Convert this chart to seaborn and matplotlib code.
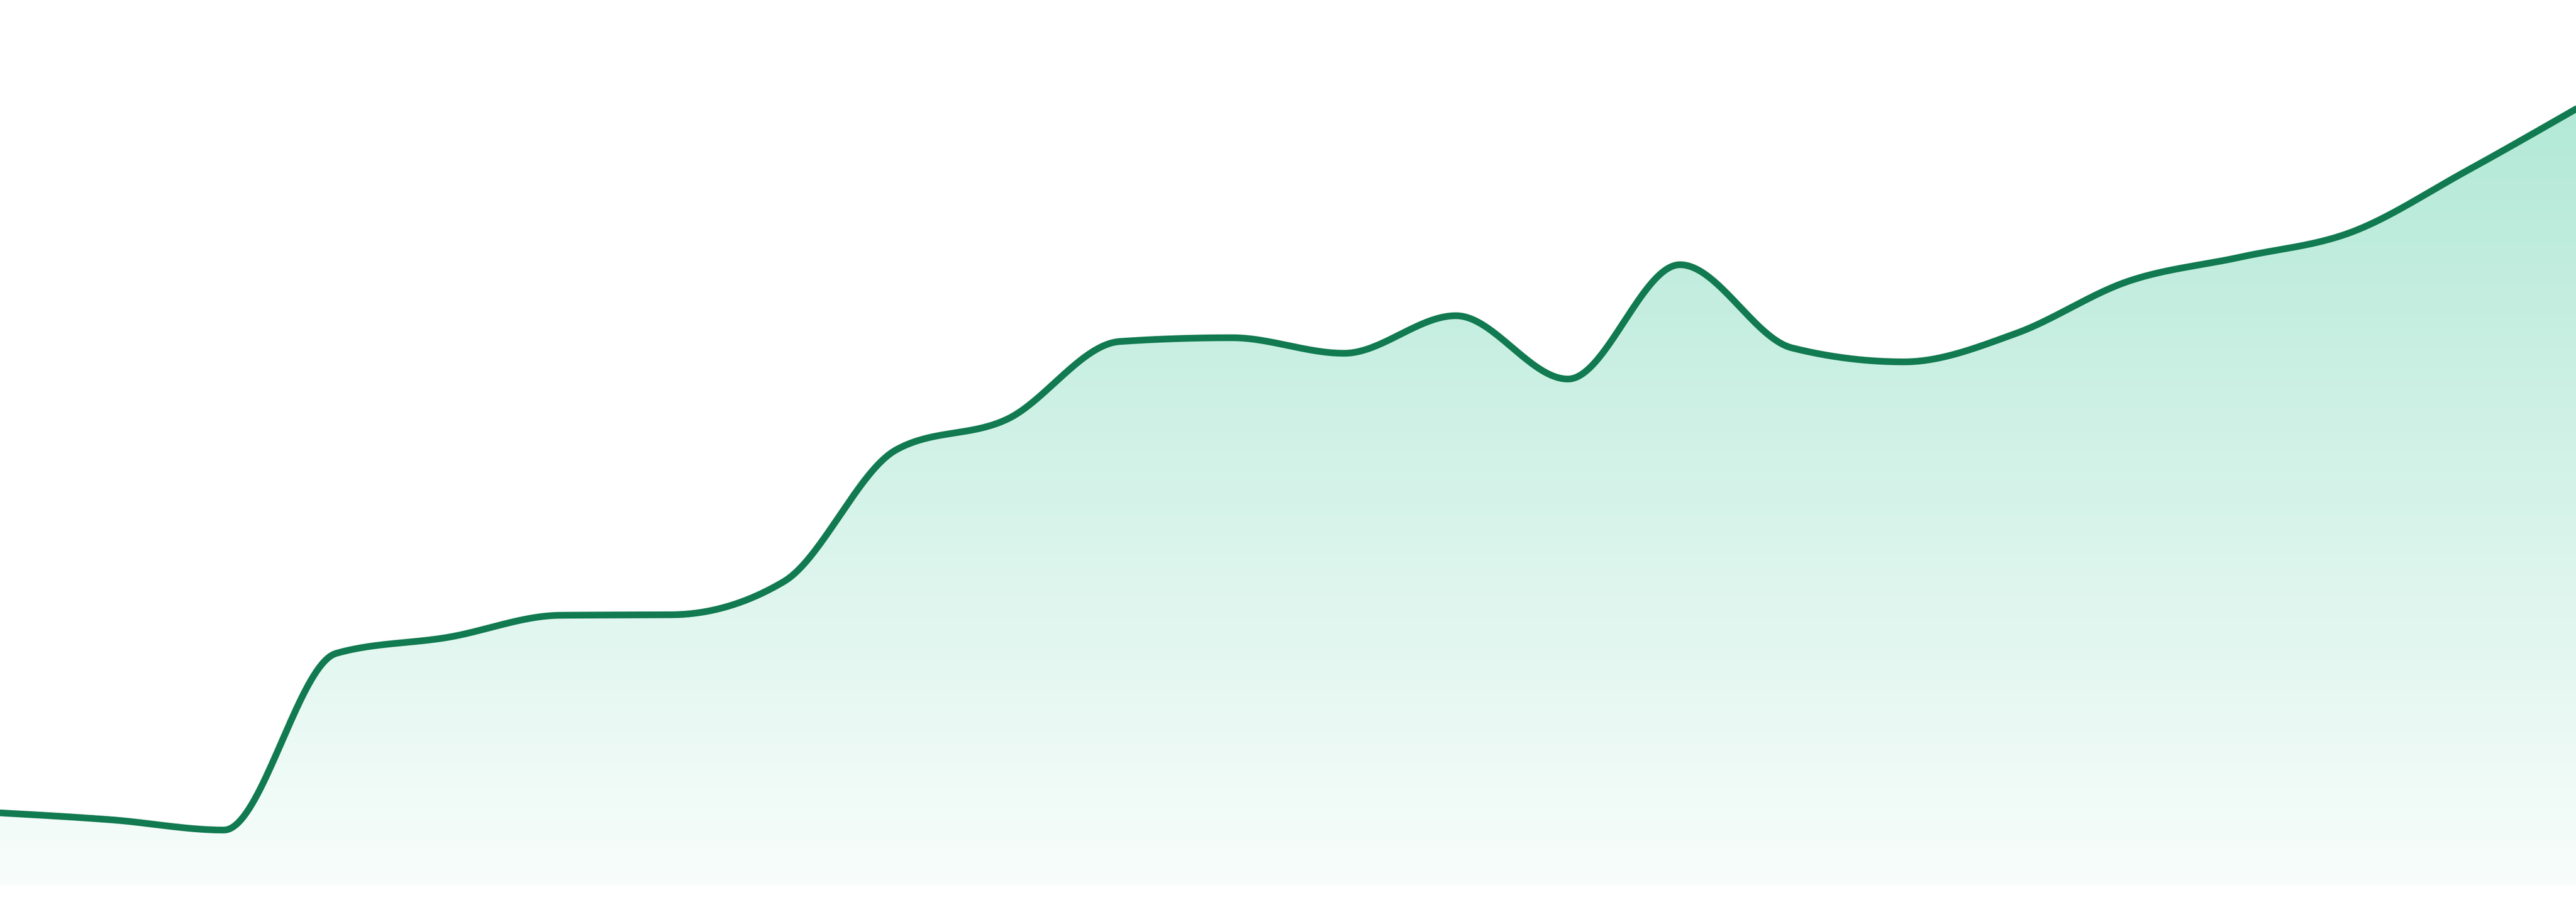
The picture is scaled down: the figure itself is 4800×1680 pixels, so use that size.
import numpy as np
import pandas as pd
import seaborn as sns
import matplotlib.pyplot as plt
from matplotlib.colors import LinearSegmentedColormap, to_rgb

# Values (one point per period)
periods = list(range(24))
values = [16.6, 15.3, 13.4, 46.3, 49.3, 53.4, 53.5, 59.7, 84.2, 90.0, 104.4, 105.1,
          102.2, 109.2, 97.4, 118.7, 103.2, 100.6, 105.9, 115.6, 120.1, 124.8, 135.9, 147.7]
baseline = 3.0

line_color = "#117a50"
fill_color = "#10b981"


def monotone_x(x, y, n=40):
    # monotone cubic interpolation (same rule as d3.curveMonotoneX)
    x = np.asarray(x, float)
    y = np.asarray(y, float)
    h = np.diff(x)
    s = np.diff(y) / h
    t = np.zeros_like(y)
    for i in range(1, len(y) - 1):
        s0, s1 = s[i - 1], s[i]
        p = (s0 * h[i] + s1 * h[i - 1]) / (h[i - 1] + h[i])
        t[i] = (np.sign(s0) + np.sign(s1)) * min(abs(s0), abs(s1), 0.5 * abs(p))
    t[0] = (3 * s[0] - t[1]) / 2
    t[-1] = (3 * s[-1] - t[-2]) / 2
    xs, ys = [], []
    for i in range(len(h)):
        u = np.linspace(0, 1, n, endpoint=False)
        h00 = 2 * u**3 - 3 * u**2 + 1
        h10 = u**3 - 2 * u**2 + u
        h01 = -2 * u**3 + 3 * u**2
        h11 = u**3 - u**2
        xs.append(x[i] + u * h[i])
        ys.append(h00 * y[i] + h10 * h[i] * t[i] + h01 * y[i + 1] + h11 * h[i] * t[i + 1])
    xs.append([x[-1]])
    ys.append([y[-1]])
    return np.concatenate(xs), np.concatenate(ys)


sx, sy = monotone_x(periods, values)
curve = pd.DataFrame({"period": sx, "value": sy})

sns.set_theme(style="white")
fig = plt.figure(figsize=(48, 16.8), dpi=100)
ax = fig.add_axes([0, 0, 1, 1])

# gradient fill under the curve
fill = ax.fill_between(curve["period"], curve["value"], baseline, color="none", lw=0)
cmap = LinearSegmentedColormap.from_list(
    "grad", [(*to_rgb(fill_color), 0.03), (*to_rgb(fill_color), 0.32)])
grad = np.linspace(0, 1, 256).reshape(-1, 1)
img = ax.imshow(grad, cmap=cmap, aspect="auto", origin="lower",
                extent=[0, periods[-1], baseline, max(values)], zorder=1)
img.set_clip_path(fill.get_paths()[0], transform=ax.transData)

sns.lineplot(data=curve, x="period", y="value", color=line_color, lw=9,
             ax=ax, zorder=3, sort=False)

ax.set_xlim(0, periods[-1])
ax.set_ylim(0, 168)
ax.axis("off")

fig.savefig("out.png", dpi=100, facecolor="white")
